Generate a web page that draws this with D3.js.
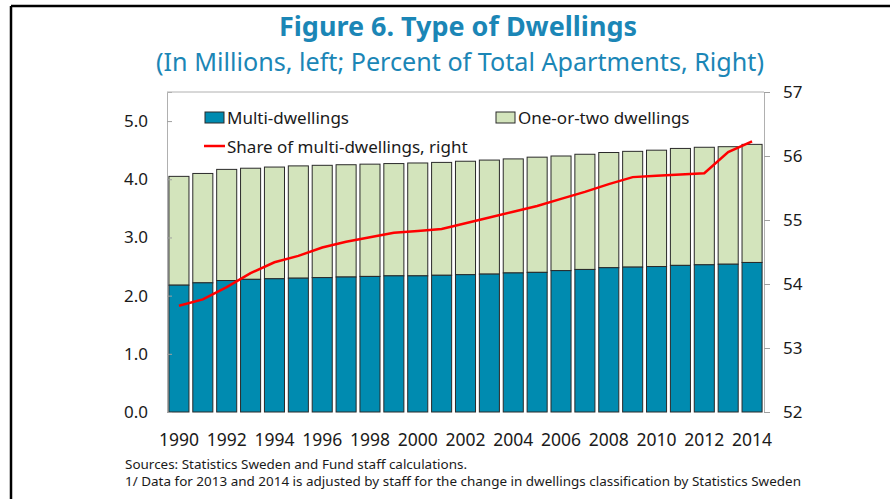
<!DOCTYPE html>
<html>
<head>
<meta charset="utf-8">
<script src="https://cdn.jsdelivr.net/npm/d3@7"></script>
<style>
  body { margin: 0; background: #fff; }
  text { font-family: "Noto Sans", "Open Sans", sans-serif; }
</style>
</head>
<body>
<script>
// data
var years = [1990, 1991, 1992, 1993, 1994, 1995, 1996, 1997, 1998, 1999,
             2000, 2001, 2002, 2003, 2004, 2005, 2006, 2007, 2008, 2009,
             2010, 2011, 2012, 2013, 2014];
var multiDwellings = [2.18, 2.22, 2.26, 2.28, 2.29, 2.30, 2.31, 2.32, 2.33, 2.34,
                      2.34, 2.35, 2.36, 2.37, 2.39, 2.40, 2.43, 2.45, 2.48, 2.49,
                      2.50, 2.52, 2.53, 2.54, 2.57];
var totalDwellings = [4.05, 4.10, 4.17, 4.19, 4.21, 4.23, 4.24, 4.25, 4.26, 4.27,
                      4.28, 4.29, 4.31, 4.33, 4.35, 4.38, 4.40, 4.43, 4.46, 4.48,
                      4.50, 4.53, 4.55, 4.56, 4.60];
var shareMulti = [53.66, 53.76, 53.95, 54.17, 54.34, 54.44, 54.57, 54.66, 54.73, 54.80,
                  54.83, 54.86, 54.95, 55.04, 55.13, 55.22, 55.33, 55.44, 55.56, 55.67,
                  55.69, 55.71, 55.73, 56.06, 56.23];
var leftTicks = [0, 1, 2, 3, 4, 5];
var rightTicks = [52, 53, 54, 55, 56, 57];
var yearLabels = years.filter(function (d) { return d % 2 === 0; });

var width = 894, height = 499;
var margin = { left: 167, right: 130, top: 92, bottom: 87 };
var x0 = margin.left, x1 = width - margin.right;
var y0 = height - margin.bottom, y1 = margin.top;

var svg = d3.select("body").append("svg")
    .attr("width", width)
    .attr("height", height);

// outer frame (top and left only)
svg.append("line").attr("x1", 11).attr("x2", 890).attr("y1", 6).attr("y2", 6)
    .attr("stroke", "#000").attr("stroke-width", 2.5);
svg.append("line").attr("x1", 11).attr("x2", 11).attr("y1", 6).attr("y2", height)
    .attr("stroke", "#000").attr("stroke-width", 2.5);

// titles
svg.append("text")
    .attr("x", 458).attr("y", 36)
    .attr("text-anchor", "middle")
    .attr("font-size", 26).attr("font-weight", "bold")
    .attr("fill", "#1B86B6")
    .attr("textLength", 358).attr("lengthAdjust", "spacingAndGlyphs")
    .text("Figure 6. Type of Dwellings");
svg.append("text")
    .attr("x", 460).attr("y", 71)
    .attr("text-anchor", "middle")
    .attr("font-size", 25)
    .attr("fill", "#1B86B6")
    .attr("textLength", 608).attr("lengthAdjust", "spacingAndGlyphs")
    .text("(In Millions, left; Percent of Total Apartments, Right)");

// scales
var x = d3.scaleBand().domain(years).range([x0, x1]).paddingInner(0.16).paddingOuter(0.08);
var yL = d3.scaleLinear().domain([0, 5.5]).range([y0, y1]);
var yR = d3.scaleLinear().domain([52, 57]).range([y0, y1]);

// plot frame
svg.append("line").attr("x1", x0).attr("x2", x1).attr("y1", y1).attr("y2", y1)
    .attr("stroke", "#b0b0b0").attr("stroke-width", 1);

// bars: one-or-two dwellings stacked on multi-dwellings
var bars = svg.append("g");
bars.selectAll("rect.top")
    .data(years)
    .enter().append("rect")
    .attr("class", "top")
    .attr("x", function (d) { return x(d); })
    .attr("width", x.bandwidth())
    .attr("y", function (d, i) { return yL(totalDwellings[i]); })
    .attr("height", function (d, i) { return yL(multiDwellings[i]) - yL(totalDwellings[i]); })
    .attr("fill", "#D3E4BC")
    .attr("stroke", "#2a2a2a").attr("stroke-width", 1);
bars.selectAll("rect.bottom")
    .data(years)
    .enter().append("rect")
    .attr("class", "bottom")
    .attr("x", function (d) { return x(d); })
    .attr("width", x.bandwidth())
    .attr("y", function (d, i) { return yL(multiDwellings[i]); })
    .attr("height", function (d, i) { return yL(0) - yL(multiDwellings[i]); })
    .attr("fill", "#008BB0")
    .attr("stroke", "#2a2a2a").attr("stroke-width", 1);

// left axis (ticks inward)
var leftAxis = svg.append("g")
    .attr("transform", "translate(" + x0 + ",0)")
    .call(d3.axisLeft(yL).tickValues(leftTicks).tickSize(-5).tickPadding(19)
        .tickFormat(d3.format(".1f")));
// right axis (ticks outward)
var rightAxis = svg.append("g")
    .attr("transform", "translate(" + x1 + ",0)")
    .call(d3.axisRight(yR).tickValues(rightTicks).tickSize(6).tickPadding(13)
        .tickFormat(d3.format("d")));
[leftAxis, rightAxis].forEach(function (g) {
    g.select(".domain").attr("stroke", "#b0b0b0");
    g.selectAll(".tick line").attr("stroke", "#a0a0a0");
    g.selectAll(".tick text")
        .attr("font-size", 17).attr("fill", "#1a1a1a")
        .attr("font-family", "'Noto Sans', sans-serif");
});

// bottom axis labels
var bottomAxis = svg.append("g")
    .attr("transform", "translate(0," + y0 + ")")
    .call(d3.axisBottom(x).tickValues(yearLabels).tickSize(0).tickPadding(22));
bottomAxis.select(".domain").remove();
bottomAxis.selectAll(".tick text")
    .attr("font-size", 17.5).attr("fill", "#1a1a1a")
    .attr("font-family", "'Noto Sans', sans-serif");

// share line on the right axis
var line = d3.line()
    .x(function (d, i) { return x(years[i]) + x.bandwidth() / 2; })
    .y(function (d) { return yR(d); });
svg.append("path")
    .datum(shareMulti)
    .attr("d", line)
    .attr("fill", "none")
    .attr("stroke", "#FF0000")
    .attr("stroke-width", 2.5);

// legend
var legend = svg.append("g").attr("font-size", 17).attr("fill", "#1a1a1a");
legend.append("rect").attr("x", 205).attr("y", 112).attr("width", 19).attr("height", 11)
    .attr("fill", "#008BB0").attr("stroke", "#2a2a2a");
legend.append("text").attr("x", 227).attr("y", 124).text("Multi-dwellings");
legend.append("rect").attr("x", 496).attr("y", 112).attr("width", 19).attr("height", 11)
    .attr("fill", "#D3E4BC").attr("stroke", "#2a2a2a");
legend.append("text").attr("x", 518).attr("y", 124).text("One-or-two dwellings");
legend.append("line").attr("x1", 204).attr("x2", 225).attr("y1", 146).attr("y2", 146)
    .attr("stroke", "#FF0000").attr("stroke-width", 2.5);
legend.append("text").attr("x", 227).attr("y", 153).text("Share of multi-dwellings, right");

// footnotes
svg.append("text").attr("x", 125).attr("y", 469)
    .attr("font-size", 12.5).attr("fill", "#1a1a1a")
    .attr("textLength", 342).attr("lengthAdjust", "spacingAndGlyphs")
    .text("Sources: Statistics Sweden and Fund staff calculations.");
svg.append("text").attr("x", 125).attr("y", 486)
    .attr("font-size", 12.5).attr("fill", "#1a1a1a")
    .attr("textLength", 676).attr("lengthAdjust", "spacingAndGlyphs")
    .text("1/ Data for 2013 and 2014 is adjusted by staff for the change in dwellings classification by Statistics Sweden");
</script>
</body>
</html>
